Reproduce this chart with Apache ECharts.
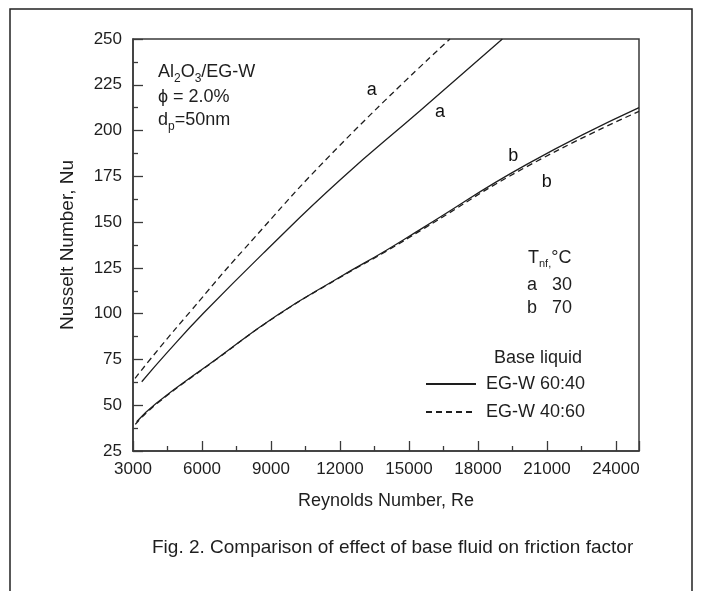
<!DOCTYPE html>
<html>
<head>
<meta charset="utf-8">
<script src="https://cdn.jsdelivr.net/npm/echarts@6/dist/echarts.min.js"></script>
<style>
html,body{margin:0;padding:0;background:#fff;}
#chart{width:702px;height:591px;}
</style>
</head>
<body>
<div id="chart"></div>
<script>
// ---- data ----
const xTicks = [3000, 6000, 9000, 12000, 15000, 18000, 21000, 24000];
const yTicks = [25, 50, 75, 100, 125, 150, 175, 200, 225, 250];

// curve a (T = 30 °C)
const reA6040 = [3380, 4500, 6060, 8810, 12000, 15480, 19060];
const nuA6040 = [62.8, 79, 100.2, 134.8, 173, 210.8, 250];
const reA4060 = [3090, 4200, 5480, 7800, 12000, 16780];
const nuA4060 = [64.7, 82, 101, 134.8, 192, 250];

// curve b (T = 70 °C)
const reB6040 = [3160, 4000, 6600, 9250, 12000, 14000, 15620, 20120, 25000];
const nuB6040 = [41, 51, 75, 99, 120, 134.5, 147, 181.5, 212.5];
const reB4060 = [3100, 4000, 6600, 9250, 12000, 14000, 15620, 20120, 25000];
const nuB4060 = [39.5, 50.5, 74.8, 98.8, 119.8, 134, 146.3, 180.3, 210.5];

// curve tags
const tagNames = ['a', 'a', 'b', 'b'];
const tagRe = [13380, 16350, 19530, 20990];
const tagNu = [222, 210, 186, 172];

const legendNames = ['EG-W 60:40', 'EG-W 40:60'];
const caption = 'Fig. 2. Comparison of effect of base fluid on friction factor';

// ---- chart ----
const FONT = '"Liberation Sans", Arial, Helvetica, sans-serif';
const INK = '#1e1e1e';
const zip = (xs, ys) => xs.map((x, i) => [x, ys[i]]);

const lineSeries = (name, xs, ys, dashed) => ({
  name: name,
  type: 'line',
  data: zip(xs, ys),
  smooth: true,
  symbol: 'none',
  lineStyle: { color: INK, width: 1.3, type: dashed ? [6, 4] : 'solid' },
  itemStyle: { color: INK },
  emphasis: { disabled: true },
  z: 3
});

const chart = echarts.init(document.getElementById('chart'), null, { renderer: 'canvas' });

chart.setOption({
  animation: false,
  backgroundColor: '#fff',
  textStyle: { fontFamily: FONT, color: INK },
  grid: {
    left: 133, right: 63, top: 39, bottom: 140,
    show: true, borderColor: '#3a3a3a', borderWidth: 1.5, backgroundColor: 'transparent'
  },
  xAxis: {
    type: 'value',
    min: xTicks[0], max: 25000, interval: 3000,
    name: 'Reynolds Number, Re',
    nameLocation: 'middle', nameGap: 41,
    nameTextStyle: { fontSize: 18, fontFamily: FONT, color: INK },
    axisLine: { show: true, onZero: false, lineStyle: { color: '#3a3a3a', width: 1.5 } },
    axisTick: { show: true, inside: true, length: 10, lineStyle: { color: '#3a3a3a', width: 1.3 } },
    minorTick: { show: true, splitNumber: 2, length: 5, lineStyle: { color: '#3a3a3a', width: 1.3 } },
    splitLine: { show: false },
    axisLabel: {
      fontSize: 17, color: INK, margin: 10, fontFamily: FONT,
      formatter: v => (xTicks.indexOf(v) >= 0 ? String(v) : '')
    }
  },
  yAxis: {
    type: 'value',
    min: yTicks[0], max: yTicks[yTicks.length - 1], interval: 25,
    name: 'Nusselt Number, Nu',
    nameLocation: 'middle', nameGap: 56, nameRotate: 90,
    nameTextStyle: { fontSize: 19, fontFamily: FONT, color: INK },
    axisLine: { show: true, onZero: false, lineStyle: { color: '#3a3a3a', width: 1.5 } },
    axisTick: { show: true, inside: true, length: 10, lineStyle: { color: '#3a3a3a', width: 1.3 } },
    minorTick: { show: true, splitNumber: 2, length: 5, lineStyle: { color: '#3a3a3a', width: 1.3 } },
    splitLine: { show: false },
    axisLabel: { fontSize: 17, color: INK, margin: 11, fontFamily: FONT }
  },
  legend: {
    data: legendNames,
    orient: 'vertical',
    left: 420, top: 370,
    itemWidth: 50, itemHeight: 14, itemGap: 10,
    itemStyle: { opacity: 0 },
    textStyle: { fontSize: 18, color: INK, fontFamily: FONT, padding: [0, 0, 0, 5] },
    selectedMode: false
  },
  series: [
    lineSeries(legendNames[0], reA6040, nuA6040, false),
    lineSeries(legendNames[1], reA4060, nuA4060, true),
    lineSeries(legendNames[0], reB6040, nuB6040, false),
    lineSeries(legendNames[1], reB4060, nuB4060, true),
    {
      type: 'scatter',
      data: tagRe.map((x, i) => ({ value: [x, tagNu[i]], name: tagNames[i] })),
      symbolSize: 1,
      itemStyle: { color: 'rgba(255,255,255,0)' },
      label: { show: true, position: 'inside', formatter: p => p.name, fontSize: 18, color: '#111', opacity: 1, fontFamily: FONT },
      emphasis: { disabled: true },
      silent: true,
      z: 4
    }
  ],
  graphic: [
    { type: 'rect', shape: { x: 10, y: 9, width: 682, height: 620 },
      style: { fill: 'none', stroke: '#222', lineWidth: 1.5 }, silent: true, z: -1 },
    { type: 'text', left: 158, top: 63,
      style: { text: 'Al{s|2}O{s|3}/EG-W', font: '18px ' + FONT, fill: INK,
        rich: { s: { fontSize: 12, fontFamily: FONT, fill: INK, padding: [13, 0, 0, 0] } } } },
    { type: 'text', left: 158, top: 88,
      style: { text: '\u03D5 = 2.0%', font: '18px ' + FONT, fill: INK } },
    { type: 'text', left: 158, top: 111,
      style: { text: 'd{s|p}=50nm', font: '18px ' + FONT, fill: INK,
        rich: { s: { fontSize: 12, fontFamily: FONT, fill: INK, padding: [13, 0, 0, 0] } } } },
    { type: 'text', left: 528, top: 249,
      style: { text: 'T{s|nf,}\u00B0C', font: '18px ' + FONT, fill: INK,
        rich: { s: { fontSize: 11, fontFamily: FONT, fill: INK, padding: [12, 0, 0, 0] } } } },
    { type: 'text', left: 527, top: 276, style: { text: 'a   30', font: '18px ' + FONT, fill: INK } },
    { type: 'text', left: 527, top: 299, style: { text: 'b   70', font: '18px ' + FONT, fill: INK } },
    { type: 'text', left: 494, top: 349, style: { text: 'Base liquid', font: '18px ' + FONT, fill: INK } },
    { type: 'text', left: 152, top: 538,
      style: { text: caption, font: '19px ' + FONT, fill: INK } }
  ]
});
</script>
</body>
</html>
